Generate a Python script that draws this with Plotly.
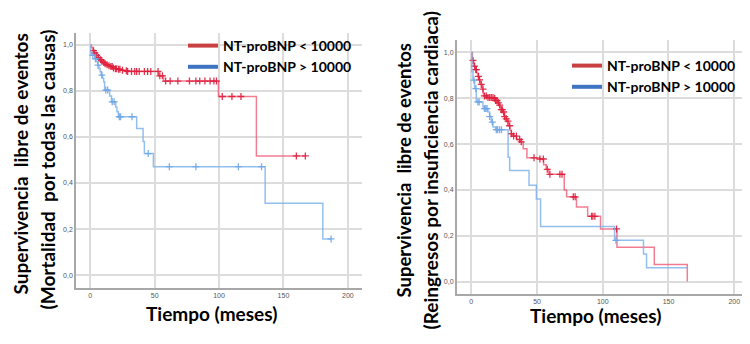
import bisect
import plotly.graph_objects as go

# ---------------- data ----------------
series_names = ["NT-proBNP < 10000", "NT-proBNP > 10000"]
y_tick_vals = [0.0, 0.2, 0.4, 0.6, 0.8, 1.0]
x_tick_vals = [0, 50, 100, 150, 200]

# Left panel: all-cause mortality
mort_low_t = [0, 0.8, 2, 3, 4.7, 6, 7.3, 8.5, 9.8, 11, 12.4, 14, 15, 17.6, 19, 21.5, 24, 26.7, 29, 53, 57, 99.5, 129, 167]
mort_low_s = [1.0, 0.99, 0.975, 0.965, 0.955, 0.945, 0.936, 0.93, 0.924, 0.918, 0.914, 0.91, 0.906, 0.90, 0.897, 0.894, 0.89, 0.888, 0.885, 0.866, 0.843, 0.776, 0.518, 0.518]
mort_low_c = [2.5, 3.5, 5, 6.5, 8, 9, 10.5, 11.5, 13, 14.5, 16, 17, 18, 19.5, 20.5, 22, 23, 25, 28, 29, 32, 34.5, 36, 38, 42, 44.5, 47, 52.6, 54, 56,
              58.5, 62, 68, 77, 82, 85, 89, 93, 96, 98, 102.5, 110, 117, 160, 167]

mort_high_t = [0, 0.5, 3.5, 4.7, 5.8, 6.7, 7.6, 8.5, 9.5, 10.4, 11.1, 15.0, 16.5, 19.7, 20.7, 21.8, 36, 41, 42, 49, 135.8, 180.6, 187]
mort_high_s = [1.0, 0.955, 0.94, 0.927, 0.912, 0.898, 0.884, 0.869, 0.855, 0.84, 0.804, 0.778, 0.753, 0.73, 0.71, 0.688, 0.637, 0.58, 0.528, 0.471, 0.312, 0.157, 0.157]
mort_high_c = [2, 4, 6, 9, 12, 13.5, 17, 18.5, 22.5, 23.5, 32.4, 45, 61.4, 82, 115, 133, 187]

# Right panel: heart-failure readmissions
hf_low_t = [0, 0.8, 2, 3, 4, 5, 6, 7, 8.4, 9, 10, 12, 16.7, 18, 20, 21, 21.8, 22.8, 23.8, 25, 26, 27, 28, 29.4, 30.5, 31.5, 34.5, 37, 39.5, 42.3,
            52, 55, 57, 59, 70.7, 72.5, 80, 88.5, 98.3, 110.8, 139.2, 164.3]
hf_low_s = [1.0, 0.965, 0.94, 0.925, 0.91, 0.895, 0.88, 0.86, 0.84, 0.82, 0.81, 0.803, 0.80, 0.79, 0.78, 0.77, 0.76, 0.75, 0.74, 0.72, 0.71, 0.70, 0.68, 0.66, 0.645, 0.635, 0.62, 0.61, 0.58, 0.54,
            0.535, 0.51, 0.49, 0.468, 0.40, 0.37, 0.325, 0.285, 0.23, 0.15, 0.075, 0.0]
hf_low_c = [1.3, 2.5, 3.5, 3.8, 5.5, 6.3, 7.6, 8.9, 10, 11.4, 12.7, 14, 15.2, 16.5, 17.8, 18.5, 19.5, 20.6, 21.6, 22.8, 23.6, 24.6, 25.4, 26.6, 27.9, 29.2, 30.5, 32.2, 34.3, 36.8, 38,
            47.7, 52.2, 54.8, 57.8, 59.8, 67.4, 69, 77.6, 79, 91.5, 92.5, 94, 110.5]

hf_high_t = [0, 0.5, 1.3, 2.5, 3.8, 8.9, 10, 12.7, 14, 15.2, 16.5, 18.5, 28, 29.2, 43.9, 49.5, 52.7, 109, 131, 133.3, 164]
hf_high_s = [1.0, 0.915, 0.879, 0.842, 0.784, 0.762, 0.755, 0.74, 0.72, 0.696, 0.674, 0.663, 0.543, 0.485, 0.42, 0.36, 0.24, 0.18, 0.12, 0.06, 0.06]
hf_high_c = [2, 3.5, 5, 6, 10, 11, 12, 14, 16, 19, 20, 21.5, 23, 110]

# ---------------- style ----------------
RED_LINE = "rgba(238,80,110,0.75)"
RED_MARK = "rgba(222,30,60,0.9)"
BLUE_LINE = "rgba(120,175,235,0.8)"
BLUE_MARK = "rgba(110,165,230,0.9)"
RED_LEG = "#c8403f"
BLUE_LEG = "#3f74c2"
FONT = "Lato"

W, H = 750, 344
PAGE_MARGIN = 8  # default body margin of the written html page


def px(x):
    return (x - PAGE_MARGIN) / W


def py(y):
    return 1 - (y - PAGE_MARGIN) / H


def step_at(ts, ss, t):
    i = bisect.bisect_right(ts, t) - 1
    return ss[max(i, 0)]


fig = go.Figure()


def add_curve(ts, ss, cs, line_color, mark_color, xa, ya):
    fig.add_trace(go.Scatter(x=ts, y=ss, mode="lines", line=dict(shape="hv", color=line_color, width=1.5),
                             xaxis=xa, yaxis=ya, showlegend=False, hoverinfo="skip"))
    fig.add_trace(go.Scatter(x=cs, y=[step_at(ts, ss, c) for c in cs], mode="markers",
                             marker=dict(symbol="cross-thin", size=5, line=dict(color=mark_color, width=1.3)),
                             xaxis=xa, yaxis=ya, showlegend=False, hoverinfo="skip"))


add_curve(mort_low_t, mort_low_s, mort_low_c, RED_LINE, RED_MARK, "x", "y")
add_curve(mort_high_t, mort_high_s, mort_high_c, BLUE_LINE, BLUE_MARK, "x", "y")
add_curve(hf_low_t, hf_low_s, hf_low_c, RED_LINE, RED_MARK, "x2", "y2")
add_curve(hf_high_t, hf_high_s, hf_high_c, BLUE_LINE, BLUE_MARK, "x2", "y2")

# legend entries
for lg, xa, ya in [("legend", "x", "y"), ("legend2", "x2", "y2")]:
    for name, col in zip(series_names, [RED_LEG, BLUE_LEG]):
        fig.add_trace(go.Scatter(x=[None], y=[None], mode="lines", name=name,
                                 line=dict(color=col, width=4), xaxis=xa, yaxis=ya,
                                 legend=lg, showlegend=True))

axis_common = dict(showgrid=True, gridcolor="#dcdcdc", gridwidth=1.5, zeroline=False,
                   showline=True, linecolor="#a8a8a8", linewidth=1.5, ticks="", automargin=False,
                   tickfont=dict(family="Liberation Sans", size=7, color="#555555"))

leg_font = dict(family=FONT, size=14, color="black", weight="bold")

fig.update_layout(
    width=W, height=H,
    margin=dict(l=0, r=0, t=0, b=0, autoexpand=False),
    paper_bgcolor="white", plot_bgcolor="white",
    separators=",.",
    xaxis=dict(domain=[px(76), px(362)], range=[-11.1, 211], tickvals=x_tick_vals, anchor="y", **axis_common),
    yaxis=dict(domain=[py(287.5), py(33)], range=[-0.054, 1.052], tickvals=y_tick_vals,
               tickformat=".1f", anchor="x", **axis_common),
    xaxis2=dict(domain=[px(456.7), px(750)], range=[-11.1, 212], tickvals=x_tick_vals, anchor="y2", **axis_common),
    yaxis2=dict(domain=[py(294), py(40)], range=[-0.054, 1.054], tickvals=y_tick_vals,
                tickformat=".1f", anchor="x2", **axis_common),
    legend=dict(x=px(183), y=py(30), xanchor="left", yanchor="top", bgcolor="rgba(0,0,0,0)",
                font=leg_font, tracegroupgap=0, itemwidth=30),
    legend2=dict(x=px(567), y=py(50), xanchor="left", yanchor="top", bgcolor="rgba(0,0,0,0)",
                 font=leg_font, tracegroupgap=0, itemwidth=30),
)


def tf(size):
    return dict(family=FONT, size=size, color="black", weight="bold")


ann = [
    dict(text="Tiempo (meses)", x=px(211), y=py(313), font=tf(19)),
    dict(text="Tiempo (meses)", x=px(595), y=py(315), font=tf(19)),
    dict(text="Supervivencia  libre de eventos", x=px(20), y=py(164.5), textangle=-90, font=tf(19)),
    dict(text="(Mortalidad  por todas las causas)", x=px(47), y=py(169.5), textangle=-90, font=tf(19)),
    dict(text="Supervivencia  libre de eventos", x=px(403), y=py(170.5), textangle=-90, font=tf(18.5)),
    dict(text="(Reingresos por insuficiencia cardiaca)", x=px(430), y=py(170.5), textangle=-90, font=tf(19)),
]
for a in ann:
    fig.add_annotation(xref="paper", yref="paper", showarrow=False, xanchor="center", yanchor="middle", **a)

fig.write_html("out.html")
